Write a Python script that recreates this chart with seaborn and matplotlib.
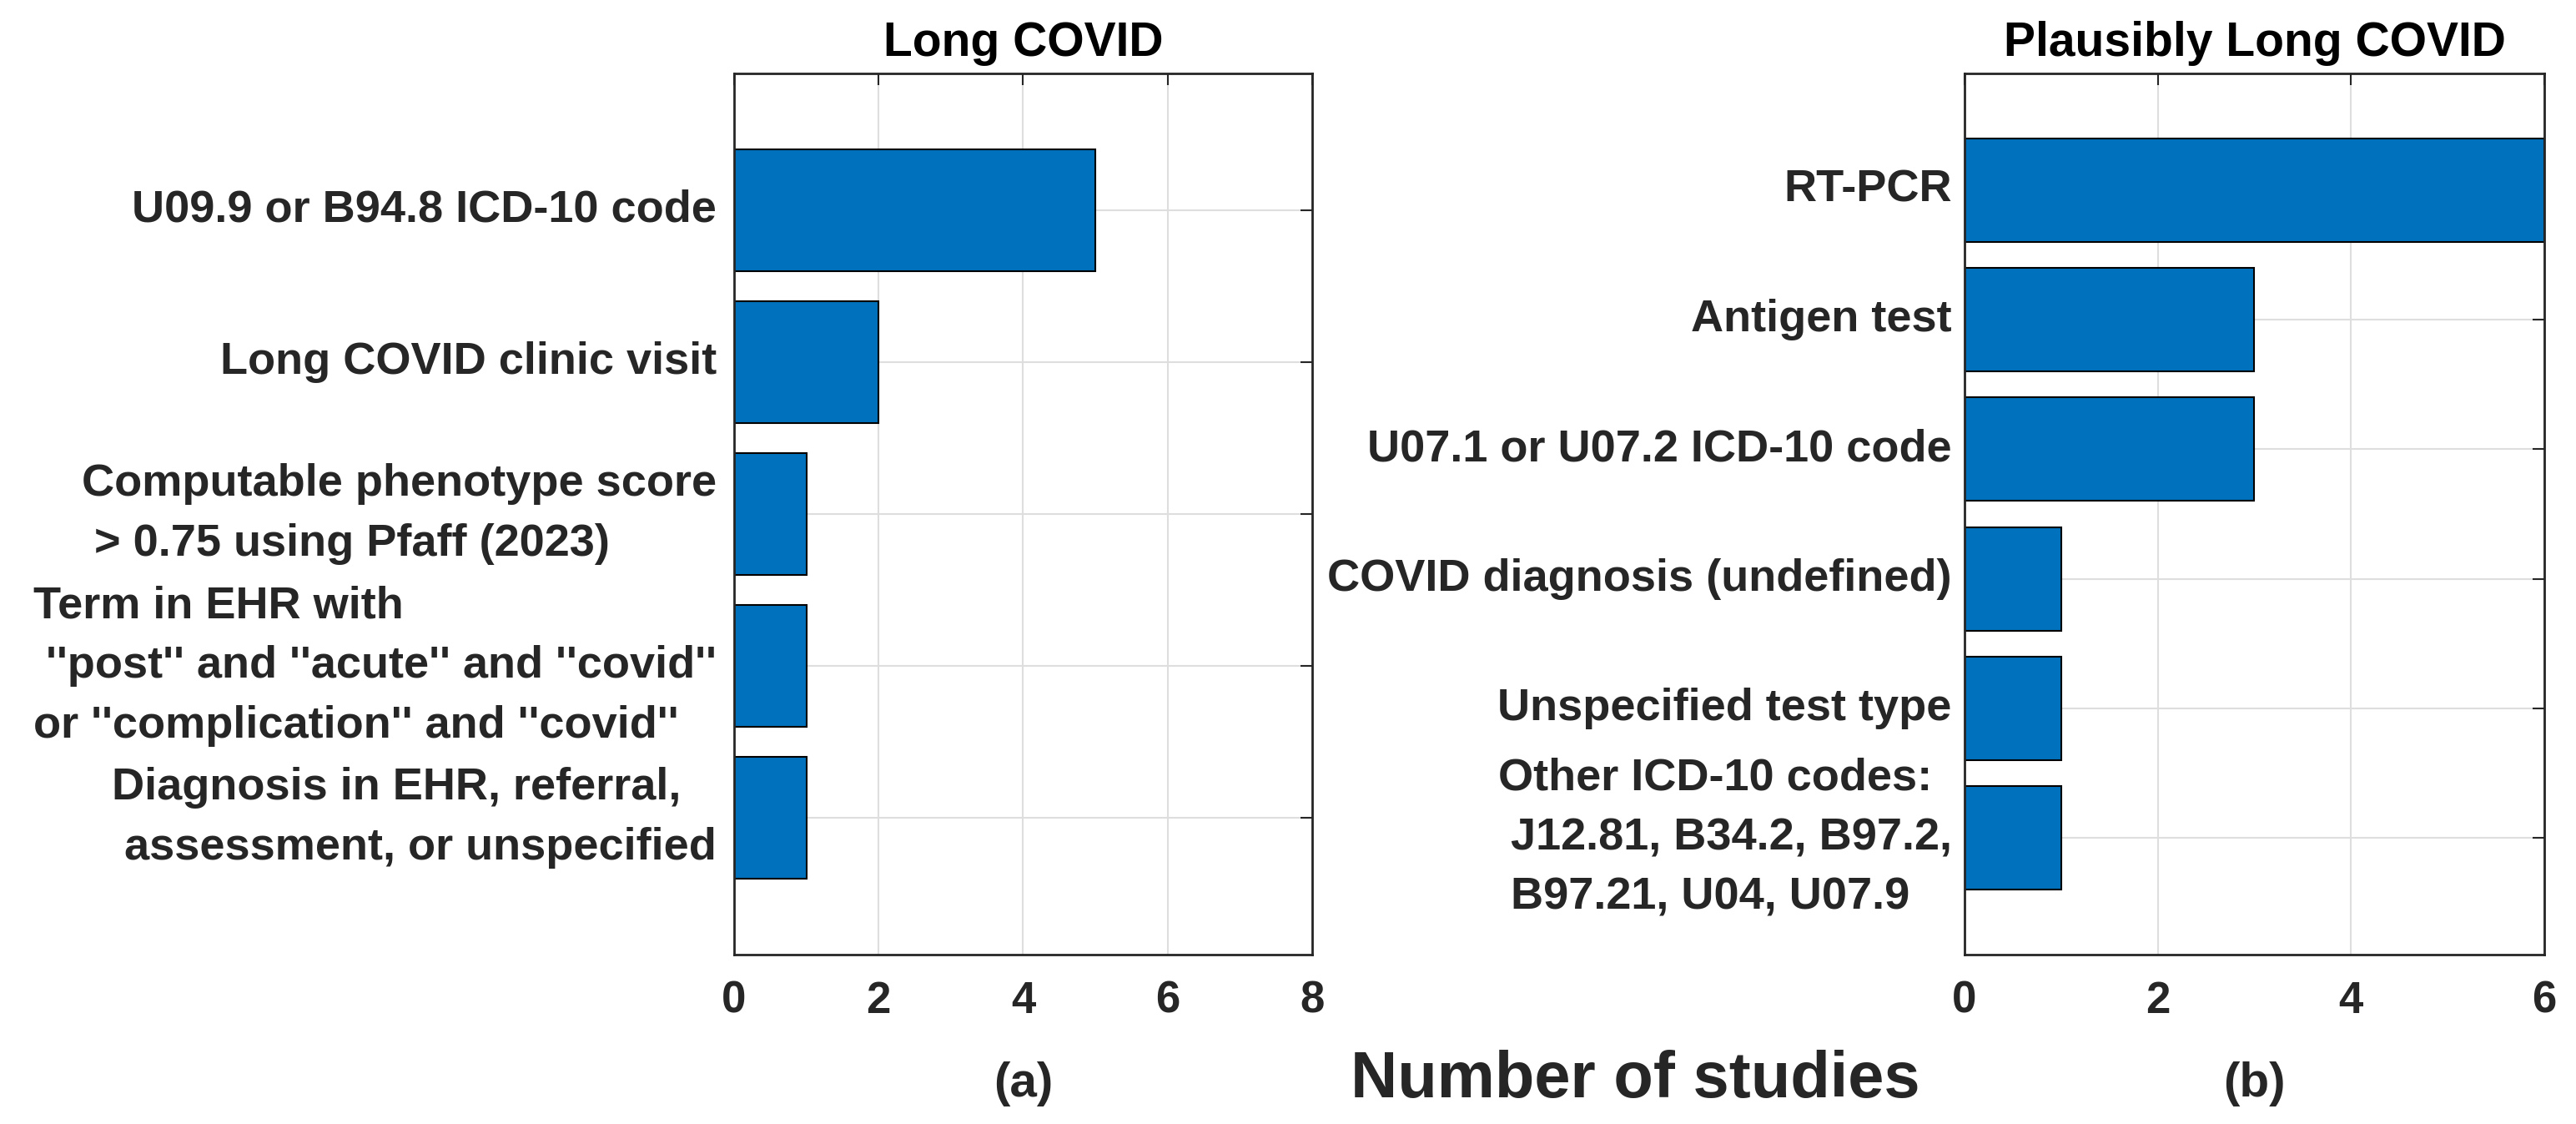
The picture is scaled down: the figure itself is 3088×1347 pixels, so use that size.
import matplotlib
matplotlib.use("Agg")
import matplotlib.pyplot as plt
import seaborn as sns

sns.set_style("white")
plt.rcParams['font.family'] = ['Liberation Sans', 'DejaVu Sans']
plt.rcParams['font.weight'] = 'bold'

# panel (a): Long COVID
long_labels = [
    "U09.9 or B94.8 ICD-10 code",
    "Long COVID clinic visit",
    "Computable phenotype score\n > 0.75 using Pfaff (2023)",
    "Term in EHR with\n ''post'' and ''acute'' and ''covid''\nor ''complication'' and ''covid''",
    "Diagnosis in EHR, referral,\n assessment, or unspecified",
]
long_counts = [5, 2, 1, 1, 1]
long_xticks = [0, 2, 4, 6, 8]

# panel (b): Plausibly Long COVID
plaus_labels = [
    "RT-PCR",
    "Antigen test",
    "U07.1 or U07.2 ICD-10 code",
    "COVID diagnosis (undefined)",
    "Unspecified test type",
    "Other ICD-10 codes:\n J12.81, B34.2, B97.2,\n B97.21, U04, U07.9",
]
plaus_counts = [6, 3, 3, 1, 1, 1]
plaus_xticks = [0, 2, 4, 6]

bar_color = '#0072BD'
dark = '#262626'

fig = plt.figure(figsize=(30.88, 13.47), dpi=100)
ax1 = fig.add_axes([0.28497, 0.15071, 0.22442, 0.78396])
ax2 = fig.add_axes([0.76263, 0.15071, 0.22506, 0.78396])

panels = [
    (ax1, long_labels, long_counts, long_xticks, "Long COVID", 15),
    (ax2, plaus_labels, plaus_counts, plaus_xticks, "Plausibly Long COVID", 11),
]

for ax, labels, counts, xticks, title, ypad in panels:
    sns.barplot(x=counts, y=labels, orient='h', color=bar_color, saturation=1,
                edgecolor='black', linewidth=1.5, width=0.8, ax=ax)
    n = len(labels)
    ax.set_xlim(xticks[0], xticks[-1])
    ax.set_xticks(xticks)
    ax.set_xticklabels([str(t) for t in xticks], fontsize=38, color=dark)
    ax.set_ylim(n - 1 + 0.9, -0.9)
    ax.set_yticks(range(n))
    ax.set_yticklabels(labels, fontsize=39, color=dark, multialignment='left',
                       linespacing=1.55, va='center')
    ax.set_xlabel('')
    ax.set_ylabel('')
    ax.grid(True, color='#dedede', linewidth=1.5)
    ax.set_axisbelow(True)
    for s in ax.spines.values():
        s.set_color(dark)
        s.set_linewidth(2)
    ax.tick_params(axis='both', direction='in', length=10, width=1.5,
                   color=dark, top=True, right=True)
    ax.tick_params(axis='x', pad=22)
    ax.tick_params(axis='y', pad=ypad)
    ax.set_title(title, fontsize=41, fontweight='bold', color='black', pad=15)

fig.text(0.3974, 0.0245, "(a)", fontsize=42, ha='center', va='baseline', color=dark)
fig.text(0.875, 0.0245, "(b)", fontsize=42, ha='center', va='baseline', color=dark)
fig.text(0.6347, 0.0238, "Number of studies", fontsize=56, ha='center', va='baseline', color=dark)

plt.savefig("out.png", dpi=100)
